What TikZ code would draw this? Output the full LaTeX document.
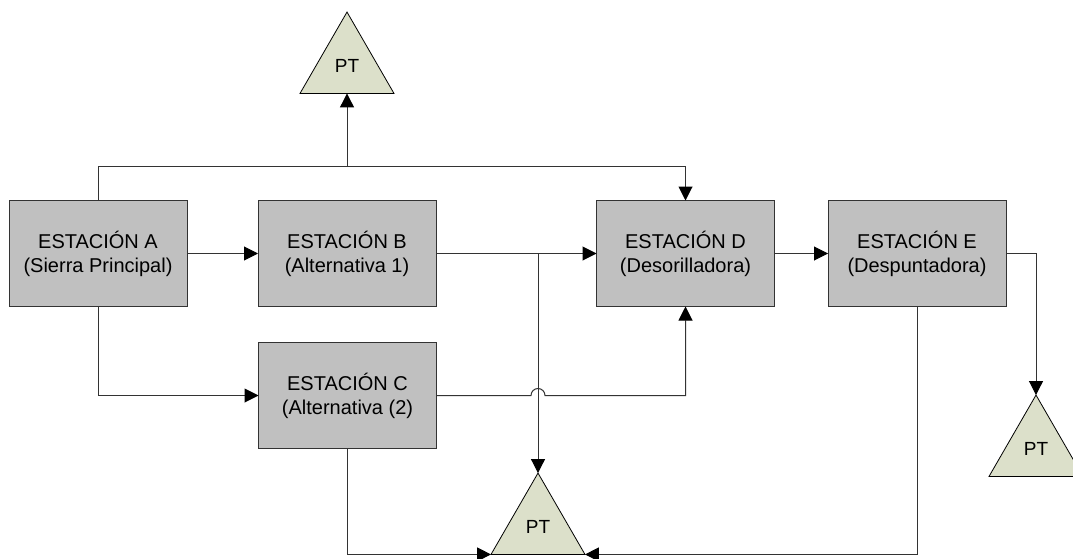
\documentclass[tikz,border=0pt]{standalone}
\usepackage{fontspec}
\setmainfont{Liberation Sans}
\usetikzlibrary{arrows.meta,shapes.geometric}
\definecolor{boxfill}{HTML}{C0C0C0}
\definecolor{ptfill}{HTML}{DCE0CA}
\definecolor{edge}{HTML}{333333}
\begin{document}
\begin{tikzpicture}[x=1pt,y=-1pt,
  station/.style={draw=edge, fill=boxfill, line width=1pt, minimum width=178pt,
    minimum height=106pt, inner sep=0pt, outer sep=0pt, align=center,
    font=\fontsize{20}{24}\selectfont},
  pt/.style={regular polygon, regular polygon sides=3, minimum size=108.5pt,
    draw=black, fill=ptfill, line width=0.8pt, inner sep=0pt, outer sep=0pt,
    font=\fontsize{19}{20}\selectfont},
  link/.style={draw=edge, line width=1pt},
  flow/.style={link, -{Triangle[length=14pt,width=14pt,black]}}]
  \clip (0,0) rectangle (1073,559);

  % stations
  \node[station] (A) at (98,253.5)    {ESTACIÓN A\\(Sierra Principal)};
  \node[station] (B) at (347,253.5)   {ESTACIÓN B\\(Alternativa 1)};
  \node[station] (C) at (347.5,395.5) {ESTACIÓN C\\(Alternativa (2)};
  \node[station] (D) at (685.5,253.5) {ESTACIÓN D\\(Desorilladora)};
  \node[station] (E) at (917,253.5)   {ESTACIÓN E\\(Despuntadora)};

  % finished product
  \node[pt] (PT1) at (347,66.3)  {PT};
  \node[pt] (PT2) at (538,527.3) {PT};
  \node[pt] (PT3) at (1036,449.3) {PT};

  % connectors
  \draw[flow] (A.north) -- ++(0,-34) coordinate (ja) -| (D.north);
  \draw[flow] (PT1.corner 1 |- ja) -- (PT1.side 2);
  \draw[flow] (A.east) -- (B.west);
  \draw[flow] (B.east) -- (D.west);
  \draw[flow] (PT2.corner 1 |- B.east) -- (PT2.corner 1);
  \draw[flow] (A.south) |- (C.west);
  \draw[flow] (C.east) -- (531,395.5) arc[start angle=180, end angle=360, radius=7] -| (D.south);
  \draw[flow] (D.east) -- (E.west);
  \draw[flow] (E.east) -| (PT3.corner 1);
  \draw[flow] (C.south) |- (PT2.corner 2);
  \draw[flow] (E.south) |- (PT2.corner 3);
\end{tikzpicture}
\end{document}
